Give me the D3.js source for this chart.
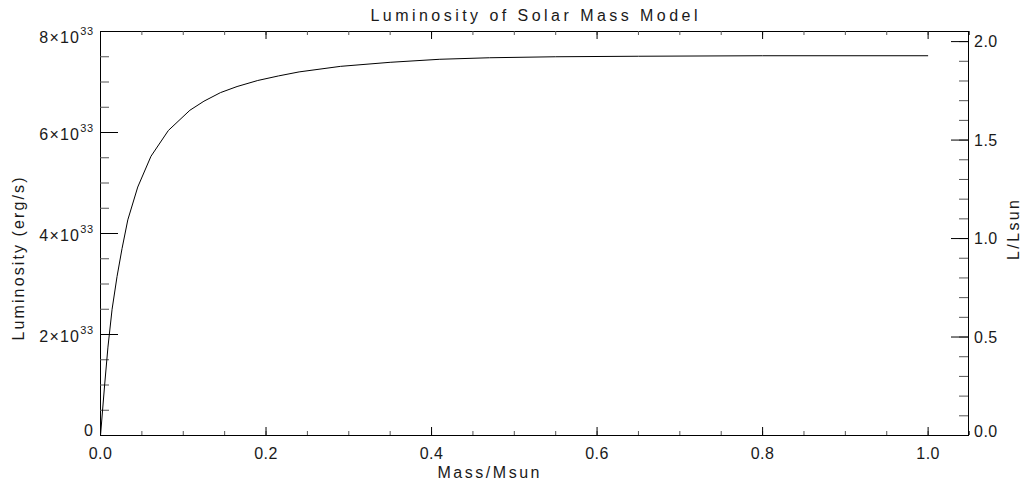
<!DOCTYPE html>
<html>
<head>
<meta charset="utf-8">
<script src="https://cdn.jsdelivr.net/npm/d3@7"></script>
<style>
  body { margin: 0; background: #fff; }
  text { font-family: "Liberation Sans", Arial, sans-serif; fill: #1a1a1a; font-size: 16px; }
  .tick text { display: none; }
</style>
</head>
<body>
<div id="chart"></div>
<script>
// Data: mass fraction vs luminosity (units of 1e33 erg/s)
const mass = [0, 0.005, 0.009, 0.014, 0.02, 0.026, 0.033, 0.045, 0.061, 0.082, 0.108, 0.125,
  0.145, 0.165, 0.19, 0.215, 0.24, 0.29, 0.35, 0.41, 0.47, 0.55, 0.65, 0.8, 1.0];
const lum = [0, 1.0, 1.75, 2.5, 3.15, 3.7, 4.27, 4.92, 5.53, 6.04, 6.44, 6.62,
  6.79, 6.91, 7.03, 7.12, 7.2, 7.31, 7.39, 7.45, 7.48, 7.5, 7.51, 7.52, 7.52];
const xTicks = [0, 0.2, 0.4, 0.6, 0.8, 1.0];
const xTickLabels = ['0.0', '0.2', '0.4', '0.6', '0.8', '1.0'];
const lTicks = [0, 2, 4, 6, 8];
const rTicks = [0, 0.5, 1.0, 1.5, 2.0];
const rTickLabels = ['0.0', '0.5', '1.0', '1.5', '2.0'];
const lsun = 3.9; // 1e33 erg/s

// Dimensions
let margin = { left: 100, right: 56, top: 31, bottom: 53 };
let width = 1025;
let height = 488;

// Scales
let x = d3.scaleLinear().domain([0, 1.05]).range([margin.left, 969]);
let y = d3.scaleLinear().domain([0, 8]).range([435, margin.top]);
let y2 = d3.scaleLinear().domain([0, 8 / lsun]).range([435, margin.top]);

let xMinor = d3.range(0, 22).map(i => i * 0.05).filter(v => v <= 1.05);
let lMinor = d3.range(0, 17).map(i => i * 0.5);
let rMinor = d3.range(0, 21).map(i => i * 0.1);

let svg = d3.select('#chart')
  .append('svg')
  .attr('width', width)
  .attr('height', height);

// Frame
svg.append('rect')
  .attr('x', 100.5).attr('y', 31.5)
  .attr('width', 868).attr('height', 404)
  .attr('fill', 'none').attr('stroke', '#000');

function addAxis(axis, t, minor) {
  let g = svg.append('g').attr('transform', t).call(axis);
  g.select('.domain').remove();
  g.selectAll('line').attr('stroke', minor ? '#555' : '#000');
}

// Bottom / top ticks
addAxis(d3.axisBottom(x).tickValues(xMinor).tickSizeInner(-4).tickSizeOuter(0), 'translate(0,435)', true);
addAxis(d3.axisBottom(x).tickValues(xTicks).tickSizeInner(-8).tickSizeOuter(0), 'translate(0,435)');
addAxis(d3.axisTop(x).tickValues(xMinor).tickSizeInner(-4).tickSizeOuter(0), 'translate(0,31)', true);
addAxis(d3.axisTop(x).tickValues(xTicks).tickSizeInner(-8).tickSizeOuter(0), 'translate(0,31)');

// Left ticks
addAxis(d3.axisLeft(y).tickValues(lMinor).tickSizeInner(-9).tickSizeOuter(0), 'translate(100,0)', true);
addAxis(d3.axisLeft(y).tickValues(lTicks).tickSizeInner(-18).tickSizeOuter(0), 'translate(100,0)');

// Right ticks
addAxis(d3.axisRight(y2).tickValues(rMinor).tickSizeInner(-9).tickSizeOuter(0), 'translate(968,0)', true);
addAxis(d3.axisRight(y2).tickValues(rTicks).tickSizeInner(-17).tickSizeOuter(0), 'translate(968,0)');

// Curve
let line = d3.line()
  .x((d, i) => x(mass[i]) + 0.5)
  .y(d => y(d) + 0.5);
svg.append('path')
  .datum(lum)
  .attr('fill', 'none')
  .attr('stroke', '#000')
  .attr('stroke-width', 1)
  .attr('d', line);

// Tick labels
svg.selectAll('.xlab')
  .data(xTicks)
  .enter().append('text')
  .attr('x', d => x(d) + 0.5)
  .attr('y', 459)
  .attr('text-anchor', 'middle')
  .attr('letter-spacing', 0.5)
  .text((d, i) => xTickLabels[i]);

let ll = svg.selectAll('.ylab')
  .data(lTicks)
  .enter().append('text')
  .attr('x', 94)
  .attr('y', d => d === 0 ? y(d) + 1 : (d === 8 ? y(d) + 12 : y(d) + 8))
  .attr('text-anchor', 'end')
  .attr('letter-spacing', 1.2);
ll.filter(d => d === 0).text('0');
ll.filter(d => d !== 0).each(function (d) {
  let t = d3.select(this);
  t.append('tspan').text(d + '×10');
  t.append('tspan').attr('dy', -8).attr('font-size', 11).attr('letter-spacing', 0.8).text('33');
});

svg.selectAll('.rlab')
  .data(rTicks)
  .enter().append('text')
  .attr('x', 974)
  .attr('y', d => d === 0 ? y2(d) + 1.5 : y2(d) + 6)
  .attr('letter-spacing', 0.5)
  .text((d, i) => rTickLabels[i]);

// Labels
svg.append('text')
  .attr('x', 534)
  .attr('y', 21)
  .attr('text-anchor', 'middle')
  .attr('textLength', 327)
  .attr('lengthAdjust', 'spacing')
  .text('Luminosity of Solar Mass Model');
svg.append('text')
  .attr('x', 488.5)
  .attr('y', 478)
  .attr('text-anchor', 'middle')
  .attr('textLength', 102)
  .attr('lengthAdjust', 'spacing')
  .text('Mass/Msun');
svg.append('text')
  .attr('transform', 'translate(24,259) rotate(-90)')
  .attr('text-anchor', 'middle')
  .attr('textLength', 163)
  .attr('lengthAdjust', 'spacing')
  .text('Luminosity (erg/s)');
svg.append('text')
  .attr('transform', 'translate(1019,230) rotate(-90)')
  .attr('text-anchor', 'middle')
  .attr('textLength', 60)
  .attr('lengthAdjust', 'spacing')
  .text('L/Lsun');
</script>
</body>
</html>
